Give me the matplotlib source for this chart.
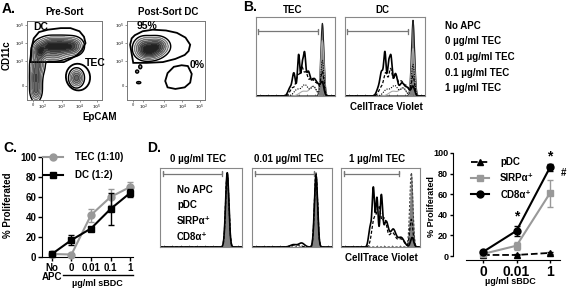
import numpy as np
import matplotlib
matplotlib.use('Agg')
import matplotlib.pyplot as plt
from matplotlib.lines import Line2D
from matplotlib.patches import Polygon, Ellipse

W, H = 567, 293

# ---- panel A: flow density blobs (x, y, sx, sy, weight) in axis fractions
pre_blobs = [
    (0.12, 0.12, 0.04, 0.07, 0.6),
    (0.12, 0.28, 0.04, 0.08, 0.7),
    (0.14, 0.45, 0.05, 0.08, 0.6),
    (0.17, 0.62, 0.05, 0.06, 0.8),
    (0.30, 0.68, 0.08, 0.06, 0.9),
    (0.47, 0.68, 0.09, 0.06, 1.0),
    (0.62, 0.68, 0.07, 0.06, 0.6),
    (0.35, 0.56, 0.10, 0.04, 0.3),
    (0.66, 0.28, 0.05, 0.06, 0.7),
]
post_blobs = [
    (0.22, 0.66, 0.07, 0.07, 0.8),
    (0.38, 0.68, 0.08, 0.06, 1.0),
    (0.30, 0.60, 0.08, 0.05, 0.6),
    (0.13, 0.36, 0.012, 0.012, 0.3),
    (0.17, 0.42, 0.012, 0.015, 0.3),
    (0.15, 0.22, 0.02, 0.01, 0.2),
]
pre_dc_gate = [(0.05, 0.48), (0.06, 0.66), (0.09, 0.78), (0.16, 0.86), (0.28, 0.89),
               (0.45, 0.91), (0.58, 0.91), (0.70, 0.87), (0.76, 0.80), (0.78, 0.72),
               (0.73, 0.63), (0.67, 0.57), (0.58, 0.52), (0.49, 0.48)]
post_dc_gate = [(0.04, 0.70), (0.06, 0.78), (0.10, 0.82), (0.20, 0.87), (0.33, 0.89),
                (0.50, 0.88), (0.64, 0.85), (0.75, 0.79), (0.81, 0.70), (0.79, 0.62),
                (0.74, 0.57), (0.62, 0.52), (0.46, 0.48), (0.25, 0.47), (0.08, 0.47)]
post_tec_gate = [(0.52, 0.16), (0.49, 0.24), (0.52, 0.34), (0.60, 0.42), (0.70, 0.44),
                 (0.78, 0.43), (0.83, 0.33), (0.81, 0.22), (0.74, 0.16), (0.62, 0.14)]
a_xticks = [0.08, 0.21, 0.47, 0.71, 0.93]
a_xlabels = ['0', '$10^2$', '$10^3$', '$10^4$', '$10^5$']
a_yticks = [0.18, 0.49, 0.72, 0.95]
a_ylabels = ['0', '$10^3$', '$10^4$', '$10^5$']

# ---- panel B: histogram peaks (center, height, width), fractions of box
b_tec = {
    'No APC': [(0.84, 0.92, 0.02)],
    '0': [(0.60, 0.06, 0.05), (0.72, 0.12, 0.04), (0.84, 0.70, 0.02)],
    '0.01': [(0.52, 0.08, 0.04), (0.62, 0.14, 0.04), (0.73, 0.12, 0.035), (0.84, 0.45, 0.02)],
    '0.1': [(0.46, 0.10, 0.03), (0.53, 0.25, 0.025), (0.58, 0.30, 0.02), (0.63, 0.28, 0.025),
            (0.70, 0.22, 0.03), (0.77, 0.15, 0.03), (0.84, 0.30, 0.02)],
    '1': [(0.43, 0.10, 0.025), (0.48, 0.28, 0.02), (0.54, 0.52, 0.015), (0.585, 0.38, 0.015),
          (0.615, 0.45, 0.014), (0.66, 0.30, 0.025), (0.73, 0.20, 0.03), (0.79, 0.12, 0.03),
          (0.84, 0.15, 0.02)],
}
b_dc = {
    'No APC': [(0.85, 0.96, 0.02)],
    '0': [(0.60, 0.06, 0.05), (0.72, 0.10, 0.04), (0.85, 0.60, 0.02)],
    '0.01': [(0.52, 0.08, 0.04), (0.62, 0.13, 0.04), (0.73, 0.10, 0.035), (0.85, 0.40, 0.02)],
    '0.1': [(0.45, 0.10, 0.03), (0.51, 0.28, 0.025), (0.57, 0.32, 0.02), (0.63, 0.25, 0.025),
            (0.70, 0.18, 0.03), (0.77, 0.12, 0.03), (0.85, 0.25, 0.02)],
    '1': [(0.42, 0.10, 0.025), (0.46, 0.28, 0.02), (0.50, 0.52, 0.015), (0.545, 0.38, 0.015),
          (0.575, 0.44, 0.015), (0.63, 0.28, 0.025), (0.71, 0.16, 0.03), (0.78, 0.10, 0.03),
          (0.85, 0.12, 0.02)],
}
b_legend = ['No APC', '0 \u00b5g/ml TEC', '0.01 \u00b5g/ml TEC', '0.1 \u00b5g/ml TEC', '1 \u00b5g/ml TEC']

# ---- panel C
c_cats = ['No\nAPC', '0', '0.01', '0.1', '1']
c_tec = [3, 2.5, 42, 60, 70]
c_tec_err = [1, 1, 6.5, 8, 5]
c_dc = [3, 17, 28.5, 48, 64]
c_dc_err = [1, 5, 2, 16, 4]

# ---- panel D histograms
d_titles = ['0 \u00b5g/ml TEC', '0.01 \u00b5g/ml TEC', '1 \u00b5g/ml TEC']
d_hists = [
    {'No APC': [(0.82, 0.94, 0.02)], 'pDC': [(0.82, 0.94, 0.02)],
     'SIRP': [(0.82, 0.93, 0.02)], 'CD8': [(0.82, 0.94, 0.02)]},
    {'No APC': [(0.80, 0.94, 0.02)], 'pDC': [(0.80, 0.94, 0.02)],
     'SIRP': [(0.55, 0.03, 0.05), (0.80, 0.92, 0.02)],
     'CD8': [(0.52, 0.03, 0.04), (0.62, 0.05, 0.035), (0.80, 0.90, 0.02)]},
    {'No APC': [(0.89, 0.94, 0.02)], 'pDC': [(0.89, 0.94, 0.02)],
     'SIRP': [(0.42, 0.35, 0.03), (0.48, 0.45, 0.025), (0.55, 0.35, 0.03), (0.65, 0.18, 0.04),
              (0.76, 0.10, 0.04), (0.89, 0.35, 0.02)],
     'CD8': [(0.37, 0.25, 0.02), (0.41, 0.72, 0.015), (0.455, 0.62, 0.015), (0.51, 0.62, 0.016),
             (0.57, 0.32, 0.03), (0.66, 0.22, 0.035), (0.76, 0.12, 0.04), (0.90, 0.12, 0.02)]},
]
d_legend = ['No APC', 'pDC', 'SIRP\u03b1\u207a', 'CD8\u03b1\u207a']

# ---- panel D line plot
d_cats = ['0', '0.01', '1']
d_pdc = [1, 1, 3]
d_pdc_err = [0.5, 0.5, 1]
d_sirp = [2, 10, 61]
d_sirp_err = [1, 4, 13]
d_cd8 = [4, 24.5, 86]
d_cd8_err = [1, 5, 3]

plt.rcParams['font.family'] = ['Liberation Sans', 'DejaVu Sans']
plt.rcParams['font.weight'] = 'bold'
plt.rcParams['axes.labelweight'] = 'bold'

fig = plt.figure(figsize=(W / 100, H / 100), dpi=100)


def add_ax(x0, y0, x1, y1):
    return fig.add_axes([x0 / W, 1 - y1 / H, (x1 - x0) / W, (y1 - y0) / H])


def ftext(x, y, s, **kw):
    kw.setdefault('ha', 'center')
    kw.setdefault('va', 'center')
    kw.setdefault('fontsize', 7)
    kw.setdefault('fontweight', 'bold')
    fig.text(x / W, 1 - y / H, s, **kw)


def density(blobs, n=220):
    g = np.linspace(0, 1, n)
    X, Y = np.meshgrid(g, g)
    Z = np.zeros_like(X)
    for cx, cy, sx, sy, w in blobs:
        Z += w * np.exp(-((X - cx) ** 2 / (2 * sx ** 2) + (Y - cy) ** 2 / (2 * sy ** 2)))
    return X, Y, Z / Z.max()


def flow_ax(x0, y0, x1, y1, blobs):
    ax = add_ax(x0, y0, x1, y1)
    X, Y, Z = density(blobs)
    levels = [0.06, 0.14, 0.25, 0.38, 0.52, 0.66, 0.8, 1.01]
    shades = ['#e4e4e4', '#c4c4c4', '#a4a4a4', '#848484', '#646464', '#444444', '#222222']
    ax.contourf(X, Y, Z, levels=levels, colors=shades)
    ax.contour(X, Y, Z, levels=levels[1:-1], colors='#333333', linewidths=0.35)
    ax.contour(X, Y, Z, levels=[levels[0]], colors='black', linewidths=1.0)
    ax.set_xlim(0, 1)
    ax.set_ylim(0, 1)
    ax.set_xticks(a_xticks)
    ax.set_xticklabels(a_xlabels, fontsize=3, color='#666666')
    ax.set_yticks(a_yticks)
    ax.set_yticklabels(a_ylabels, fontsize=3, color='#666666')
    ax.tick_params(length=1.5, width=0.5, pad=0.5, colors='#666666')
    for s in ax.spines.values():
        s.set_color('#777777')
        s.set_linewidth(0.7)
    return ax


def curve(peaks, x):
    y = np.zeros_like(x)
    for c, h, w in peaks:
        y += h * np.exp(-0.5 * ((x - c) / w) ** 2)
    return y


def hist_ax(x0, y0, x1, y1, gate_y, gate_x0, gate_x1):
    ax = add_ax(x0, y0, x1, y1)
    ax.set_xlim(0, 1)
    ax.set_ylim(0, 1)
    ax.set_xticks(np.linspace(0.05, 0.95, 10))
    ax.set_xticklabels([])
    ax.set_yticks([])
    ax.tick_params(axis='x', direction='in', length=1.5, width=0.5, colors='#666666')
    for s in ax.spines.values():
        s.set_color('#888888')
        s.set_linewidth(0.8)
    d = 0.03
    ax.plot([gate_x0, gate_x0, gate_x0, gate_x1, gate_x1, gate_x1],
            [gate_y - d, gate_y + d, gate_y, gate_y, gate_y + d, gate_y - d],
            color='#777777', lw=0.9)
    return ax


xs = np.linspace(0, 1, 500)

# ================= A =================
ftext(2, 9, 'A.', fontsize=10, ha='left')
axA1 = flow_ax(27, 21, 102, 100, pre_blobs)
axA1.add_patch(Polygon(pre_dc_gate, closed=True, fill=False, ec='black', lw=1.3))
axA1.add_patch(Ellipse((0.68, 0.29), 0.32, 0.34, angle=20, fill=False, ec='black', lw=1.3))
axA1.text(0.09, 0.92, 'DC', transform=axA1.transAxes, fontsize=7.5, fontweight='bold', va='center')
axA1.text(0.77, 0.47, 'TEC', transform=axA1.transAxes, fontsize=7.5, fontweight='bold', va='center')

axA2 = flow_ax(127, 21, 205, 100, post_blobs)
axA2.add_patch(Polygon(post_dc_gate, closed=True, fill=False, ec='black', lw=1.3))
axA2.add_patch(Polygon(post_tec_gate, closed=True, fill=False, ec='black', lw=1.3))
axA2.text(0.12, 0.94, '95%', transform=axA2.transAxes, fontsize=7.5, fontweight='bold', va='center')
axA2.text(0.80, 0.44, '0%', transform=axA2.transAxes, fontsize=7.5, fontweight='bold', va='center')

ftext(65, 12, 'Pre-Sort')
ftext(168, 12, 'Post-Sort DC')
ftext(7, 55, 'CD11c', rotation=90)
ftext(100, 117, 'EpCAM')

# ================= B =================
ftext(243, 7, 'B.', fontsize=10, ha='left')
b_styles = {
    '0': dict(color='#aaaaaa', lw=0.8, ls='-'),
    '0.01': dict(color='black', lw=0.8, ls=(0, (1, 1.2))),
    '0.1': dict(color='black', lw=0.9, ls=(0, (2.5, 1.5))),
    '1': dict(color='black', lw=1.2, ls='-'),
}
for (x0, x1, title, data) in [(256, 335, 'TEC', b_tec), (345, 425, 'DC', b_dc)]:
    ax = hist_ax(x0, 17, x1, 96, 0.82, 0.03, 0.79)
    yf = curve(data['No APC'], xs)
    ax.fill_between(xs, yf, color='#808080', lw=0)
    ax.plot(xs, yf, color='#222222', lw=0.8)
    for key in ['0', '0.01', '0.1', '1']:
        ax.plot(xs, curve(data[key], xs), **b_styles[key])
    ftext((x0 + x1) / 2 - 3, 10, title)
ftext(386, 107, 'CellTrace Violet')
for i, lab in enumerate(b_legend):
    ftext(445, 26 + i * 15.5, lab, ha='left')

# ================= C =================
ftext(3, 148, 'C.', fontsize=10, ha='left')
axC = add_ax(42, 157, 133, 257)
xc = np.arange(len(c_cats))
axC.errorbar(xc, c_tec, yerr=c_tec_err, color='#999999', marker='o', ms=5, lw=1.5,
             elinewidth=1, capsize=2, clip_on=False, zorder=3)
axC.errorbar(xc, c_dc, yerr=c_dc_err, color='black', marker='s', ms=5, lw=1.5,
             elinewidth=1, capsize=2, clip_on=False, zorder=4)
axC.set_xlim(-0.51, 4.15)
axC.set_ylim(0, 100)
axC.set_yticks(range(0, 101, 20))
axC.set_xticks(xc)
axC.set_xticklabels(c_cats, fontsize=7, fontweight='bold', linespacing=0.95)
axC.tick_params(axis='y', labelsize=7, length=3, width=1, pad=1)
axC.tick_params(axis='x', length=3, width=1, pad=1)
for lab in axC.get_yticklabels():
    lab.set_fontweight('bold')
axC.spines['top'].set_visible(False)
axC.spines['right'].set_visible(False)
hC = [Line2D([], [], color='#999999', marker='o', ms=5, lw=1.5),
      Line2D([], [], color='black', marker='s', ms=5, lw=1.5)]
axC.legend(hC, ['TEC (1:10)', 'DC (1:2)'], loc='upper left', bbox_to_anchor=(43 / W, 1 - 152 / H),
           bbox_transform=fig.transFigure, frameon=False, handlelength=2.1, handletextpad=1.2,
           labelspacing=0.85, borderpad=0, borderaxespad=0,
           prop={'weight': 'bold', 'size': 7})
fig.add_artist(Line2D([63 / W, 133 / W], [1 - 275 / H, 1 - 275 / H], color='black', lw=1))
ftext(97, 283, '\u00b5g/ml sBDC', fontsize=6.5)
ftext(8, 205, '% Proliferated', rotation=90)

# ================= D histograms =================
ftext(147, 148, 'D.', fontsize=10, ha='left')
d_styles = {
    'pDC': dict(color='#444444', lw=0.8, ls=(0, (2, 1.5))),
    'SIRP': dict(color='black', lw=0.9, ls=(0, (2.5, 1.5))),
    'CD8': dict(color='black', lw=1.2, ls='-'),
}
for i, (x0, x1) in enumerate([(160, 242), (252, 332), (341, 420)]):
    gate_x1 = 0.75 if i == 0 else (0.78 if i == 1 else 0.74)
    ax = hist_ax(x0, 168, x1, 247, 0.93, 0.04, gate_x1)
    data = d_hists[i]
    yf = curve(data['No APC'], xs)
    ax.fill_between(xs, yf, color='#808080', lw=0)
    for key in ['pDC', 'SIRP', 'CD8']:
        ax.plot(xs, curve(data[key], xs), **d_styles[key])
    ftext((x0 + x1) / 2 - 3, 159, d_titles[i])
for i, lab in enumerate(d_legend):
    ftext(177, 190 + i * 15.5, lab, ha='left')
ftext(381, 258, 'CellTrace Violet')

# ================= D line plot =================
axD = add_ax(453, 153, 565, 256)
xd = np.arange(len(d_cats))
axD.errorbar(xd, d_pdc, yerr=d_pdc_err, color='black', marker='^', ms=5, lw=1.3, ls='--',
             elinewidth=1, capsize=2, clip_on=False, zorder=3)
axD.errorbar(xd, d_sirp, yerr=d_sirp_err, color='#999999', marker='s', ms=5, lw=1.5,
             elinewidth=1, capsize=2, clip_on=False, zorder=4)
axD.errorbar(xd, d_cd8, yerr=d_cd8_err, color='black', marker='o', ms=5, lw=1.5,
             elinewidth=1, capsize=2, clip_on=False, zorder=5)
axD.set_xlim(-0.9, 2.45)
axD.set_ylim(0, 100)
axD.set_yticks(range(0, 101, 20))
axD.set_xticks(xd)
axD.set_xticklabels(d_cats, fontsize=7, fontweight='bold')
axD.tick_params(axis='y', labelsize=6.5, length=2.5, width=1, pad=1)
axD.tick_params(axis='x', length=2.5, width=1, pad=1)
for lab in axD.get_yticklabels():
    lab.set_fontweight('bold')
axD.spines['top'].set_visible(False)
axD.spines['right'].set_visible(False)
axD.spines['bottom'].set_position(('outward', 3))
axD.spines['bottom'].set_bounds(-0.5, 2.3)
axD.text(1, d_cd8[1] + d_cd8_err[1] + 2, '*', ha='center', va='bottom', fontsize=10, fontweight='bold')
axD.text(2, d_cd8[2] + d_cd8_err[2] + 1, '*', ha='center', va='bottom', fontsize=10, fontweight='bold')
axD.text(2.4, d_sirp[2] + 20, '#', ha='center', va='center', fontsize=7, fontweight='bold')
hD = [Line2D([], [], color='black', marker='^', ms=5, lw=1.3, ls='--'),
      Line2D([], [], color='#999999', marker='s', ms=5, lw=1.5),
      Line2D([], [], color='black', marker='o', ms=5, lw=1.5)]
axD.legend(hD, ['pDC', 'SIRP\u03b1\u207a', 'CD8\u03b1\u207a'], loc='upper left',
           bbox_to_anchor=(471 / W, 1 - 157 / H), bbox_transform=fig.transFigure, frameon=False,
           handlelength=1.8, handletextpad=1.2, labelspacing=0.65, borderpad=0, borderaxespad=0,
           prop={'weight': 'bold', 'size': 7})
ftext(510, 282, '\u00b5g/ml sBDC', fontsize=6.5)
ftext(432, 207, '% Proliferated', rotation=90, fontsize=6.5)

fig.savefig('out.png', dpi=100)
